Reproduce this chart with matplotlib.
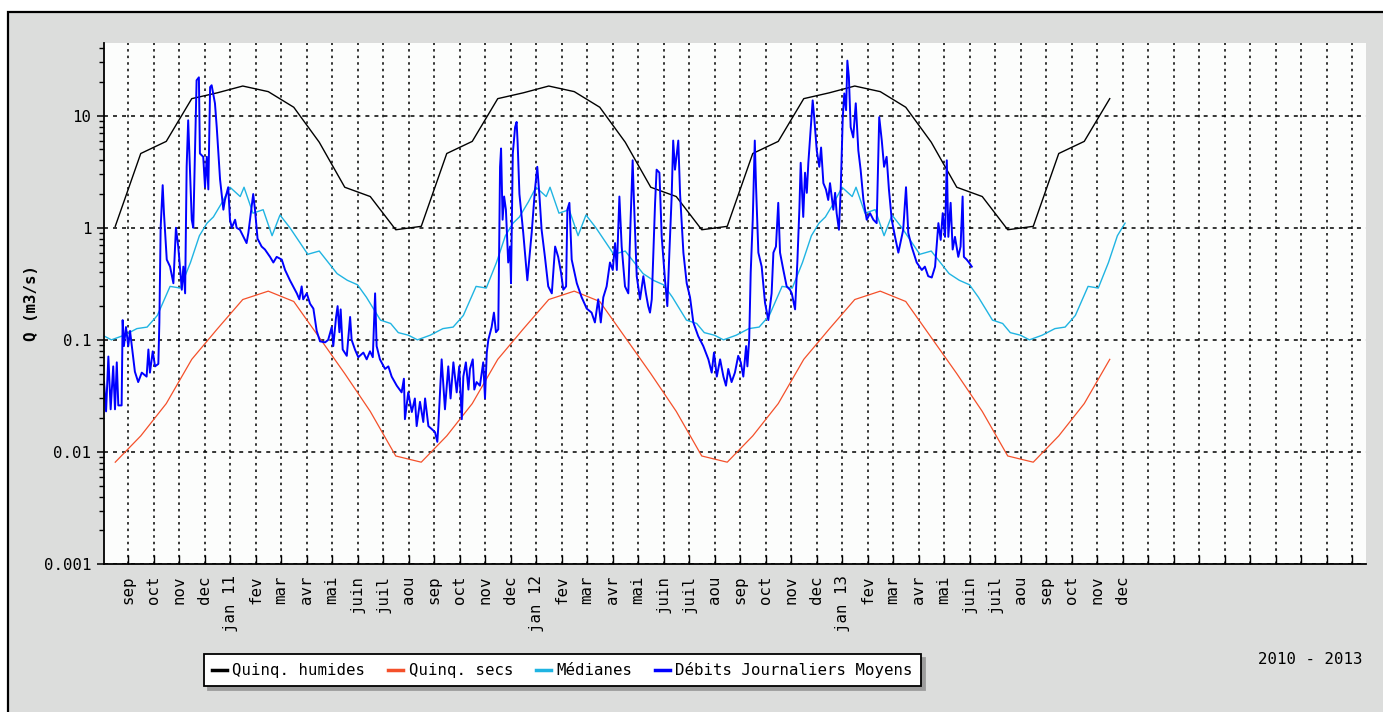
import matplotlib
matplotlib.use("Agg")
import matplotlib.pyplot as plt
from matplotlib.lines import Line2D
from matplotlib.patches import Rectangle

plt.rcParams['font.family'] = ['DejaVu Sans Mono', 'DejaVu Sans']
FS = 11.3

# x unit: months since 1 Aug 2010
month_names = ['sep', 'oct', 'nov', 'dec', 'jan', 'fev', 'mar', 'avr', 'mai', 'juin', 'juil', 'aou']
year_tags = ['11', '12', '13']

# mid-month values, Aug .. Jul (same cycle every year)
humides = [1.03, 4.6, 5.9, 14.2, 16.0, 18.4, 16.4, 11.9, 5.8, 2.3, 1.9, 0.96]
secs = [0.0081, 0.0139, 0.027, 0.067, 0.125, 0.229, 0.272, 0.22, 0.105, 0.05, 0.023, 0.0092]

# medians, one yearly cycle (month offset from 1 Aug, value)
med_m = [0.0, 0.35, 0.85, 1.35, 1.75, 2.15, 2.65, 3.05, 3.45, 3.8, 4.1, 4.35, 4.7, 5.0,
         5.4, 5.55, 5.9, 6.3, 6.65, 6.96, 7.35, 8.05, 8.5, 9.2, 9.6, 10.0, 10.35, 10.9,
         11.3, 11.6]
med_q = [0.11, 0.10, 0.11, 0.126, 0.13, 0.165, 0.3, 0.29, 0.49, 0.85, 1.1, 1.25, 1.7, 2.3,
         1.9, 2.3, 1.35, 1.45, 0.85, 1.3, 1.0, 0.58, 0.62, 0.39, 0.34, 0.31, 0.24, 0.15,
         0.14, 0.116]

# daily mean flows
deb_m = [0.06, 0.14, 0.23, 0.32, 0.42, 0.49, 0.56, 0.62, 0.75, 0.79, 0.84, 0.92, 1.01, 1.08,
         1.15, 1.27, 1.40, 1.54, 1.73, 1.80, 1.86, 1.97, 2.06, 2.19, 2.23, 2.28, 2.36, 2.41,
         2.52, 2.65, 2.78, 2.88, 2.97, 3.11, 3.17, 3.24, 3.30, 3.36, 3.50, 3.56, 3.69, 3.78,
         3.82, 3.95, 4.02, 4.09, 4.15, 4.22, 4.28, 4.41, 4.48, 4.61, 4.74, 4.80, 4.93, 5.00,
         5.07, 5.20, 5.26, 5.39, 5.65, 5.72, 5.91, 5.98, 6.08, 6.24,
         6.37, 6.57, 6.70, 6.83, 7.03, 7.16, 7.35, 7.62, 7.72, 7.81, 7.87, 8.01, 8.14, 8.27,
         8.40, 8.53, 8.73, 8.85, 8.99, 9.05, 9.16, 9.22, 9.29, 9.34, 9.42, 9.58, 9.71, 9.77,
         9.90, 10.03, 10.23, 10.36, 10.49, 10.60, 10.69, 10.75, 10.88, 11.08, 11.21, 11.34,
         11.54, 11.73, 11.82, 11.86, 11.99, 12.13, 12.25, 12.32, 12.45, 12.58, 12.65, 12.78,
         12.91, 13.04, 13.13, 13.17,
         13.30, 13.43, 13.56, 13.65, 13.76, 13.89, 13.99, 14.09, 14.15, 14.25, 14.35, 14.41,
         14.52, 14.58, 14.67, 14.80, 14.93, 15.00, 15.07, 15.13, 15.26, 15.35, 15.43, 15.52,
         15.59, 15.63, 15.69, 15.75, 15.82, 15.91, 15.98, 16.02, 16.09, 16.18, 16.24, 16.28,
         16.35, 16.50, 16.66, 16.83, 16.96, 17.05, 17.13, 17.22, 17.35, 17.48, 17.62, 17.75,
         17.87, 17.98, 18.07, 18.18, 18.23, 18.31, 18.40, 18.60, 18.79, 18.99, 19.18, 19.31,
         19.44, 19.54, 19.64, 19.77, 19.90, 20.01, 20.10, 20.17, 20.27,
         20.36, 20.49, 20.62, 20.71, 20.79, 20.84, 20.95, 21.08, 21.21, 21.31, 21.40, 21.47,
         21.54, 21.67, 21.73, 21.84, 21.93, 22.06, 22.15, 22.23, 22.32, 22.38, 22.45, 22.52,
         22.58, 22.65, 22.78, 22.91, 23.04, 23.17, 23.36, 23.56, 23.76, 23.89, 23.98, 24.09,
         24.22, 24.35, 24.45, 24.54, 24.67, 24.80, 24.93, 25.03, 25.13, 25.24, 25.29, 25.36,
         25.42, 25.50, 25.58, 25.63, 25.72, 25.85, 25.98, 26.11, 26.24, 26.31, 26.41, 26.50,
         26.57, 26.70, 26.83, 26.96,
         27.03, 27.16, 27.25, 27.33, 27.38, 27.48, 27.55, 27.62, 27.68, 27.77, 27.85, 27.91,
         28.01, 28.11, 28.18, 28.27, 28.37, 28.46, 28.53, 28.66, 28.73, 28.79, 28.88, 28.95,
         29.03, 29.09, 29.16, 29.21, 29.27, 29.34, 29.44, 29.54, 29.64, 29.73, 29.84, 29.97,
         30.10, 30.23, 30.36, 30.46, 30.56, 30.65, 30.75, 30.84, 30.95, 31.08, 31.21, 31.40,
         31.51, 31.60, 31.73, 31.93, 32.13, 32.25, 32.38, 32.52, 32.65, 32.78, 32.87, 32.95,
         33.04, 33.11, 33.17, 33.26, 33.34, 33.43, 33.56, 33.65, 33.73, 33.78, 33.89, 33.98,
         34.09]
deb_q = [0.042, 0.023, 0.071, 0.024, 0.058, 0.024, 0.063, 0.026, 0.026, 0.15, 0.088, 0.13,
         0.088, 0.12, 0.088, 0.052, 0.042, 0.051, 0.047, 0.082, 0.051, 0.079, 0.058, 0.061,
         0.143, 1.0, 2.4, 1.35, 0.52, 0.45, 0.32, 1.0, 0.68, 0.28, 0.45, 0.26, 3.5, 9.1,
         1.18, 1.0, 20.7, 22.0, 4.6, 4.3, 2.3, 4.3, 2.2, 18.0, 18.7, 12.9, 7.9, 2.7, 1.45,
         1.77, 2.3, 1.18, 1.0, 1.18, 1.0, 0.96, 0.73, 0.9, 2.0, 1.45, 0.8, 0.68,
         0.64, 0.55, 0.49, 0.55, 0.52, 0.42, 0.34, 0.26, 0.23, 0.30, 0.23, 0.26, 0.21, 0.19,
         0.12, 0.097, 0.095, 0.10, 0.13, 0.088, 0.16, 0.20, 0.117, 0.187, 0.082, 0.072, 0.16,
         0.10, 0.082, 0.07, 0.077, 0.067, 0.079, 0.07, 0.26, 0.088, 0.067, 0.055, 0.058,
         0.047, 0.039, 0.034, 0.045, 0.0196, 0.034, 0.0227, 0.03, 0.017, 0.028, 0.0185, 0.03,
         0.017, 0.016, 0.015, 0.0123, 0.017,
         0.067, 0.024, 0.058, 0.03, 0.063, 0.034, 0.058, 0.0196, 0.047, 0.063, 0.036, 0.055,
         0.067, 0.036, 0.042, 0.039, 0.063, 0.03, 0.077, 0.10, 0.13, 0.175, 0.117, 0.124,
         3.5, 5.1, 1.18, 1.9, 1.45, 0.49, 0.68, 0.32, 4.6, 7.9, 8.8, 5.7,
         2.0, 0.9, 0.34, 0.9, 2.2, 3.5, 2.0, 0.96, 0.55, 0.30, 0.26, 0.68,
         0.55, 0.40, 0.28, 0.30, 1.45, 1.67, 0.52, 0.32, 0.24, 0.19, 0.175, 0.143,
         0.23, 0.143, 0.24, 0.30, 0.49, 0.42, 0.73, 0.42, 1.9,
         0.68, 0.30, 0.26, 1.18, 4.0, 1.77, 0.37, 0.23, 0.37, 0.26, 0.20, 0.175,
         0.23, 1.67, 3.3, 3.1, 0.83, 0.34, 0.20, 0.60, 1.9, 6.0, 3.3, 4.6,
         6.0, 2.0, 0.60, 0.32, 0.24, 0.143, 0.108, 0.088, 0.067, 0.051, 0.077, 0.047,
         0.067, 0.047, 0.039, 0.055, 0.042, 0.051, 0.072, 0.063, 0.047, 0.088, 0.058, 0.10,
         0.40, 1.18, 6.0, 2.3, 0.60, 0.45, 0.215, 0.15, 0.26, 0.60, 0.68, 1.67,
         0.60, 0.42, 0.30, 0.28,
         0.26, 0.187, 0.5, 1.5, 3.8, 1.25, 3.1, 2.05, 3.8, 7.4, 13.7, 9.7,
         4.9, 3.5, 5.2, 2.5, 2.2, 1.77, 2.5, 1.45, 2.05, 1.35, 0.96, 2.2,
         9.7, 15.8, 11.2, 31.0, 22.0, 7.9, 6.4, 12.9, 4.9, 3.3, 1.77, 1.18,
         1.35, 1.18, 1.1, 9.7, 6.0, 3.5, 4.3, 2.2, 1.18, 0.83, 0.60, 0.96,
         2.3, 0.90, 0.68, 0.49, 0.42, 0.45, 0.37, 0.36, 0.45, 1.1, 0.78, 1.35,
         0.83, 4.0, 0.83, 1.67, 0.64, 0.83, 0.55, 0.68, 1.9, 0.55, 0.52, 0.49,
         0.45]

# build series over the whole period (mid-Aug 2010 .. mid-Nov 2013)
n_months = 40
hum_x = [k + 0.5 for k in range(n_months)]
hum_y = [humides[k % 12] for k in range(n_months)]
sec_y = [secs[k % 12] for k in range(n_months)]
med_x, med_y = [], []
for yr in range(4):
    for m, q in zip(med_m, med_q):
        if 12 * yr + m <= 40.1:
            med_x.append(12 * yr + m)
            med_y.append(q)

tick_pos = list(range(1, 50))
tick_labels = []
for i in range(len(tick_pos)):
    if i < n_months:
        name = month_names[i % 12]
        if name == 'jan':
            name = name + ' ' + year_tags[i // 12]
        tick_labels.append(name)
    else:
        tick_labels.append('')

W, H = 1383, 712
fig = plt.figure(figsize=(W / 100, H / 100), dpi=100, facecolor='white')
fig.add_artist(Rectangle((8 / W, -0.05), 1.2, (H - 12) / H + 0.05, transform=fig.transFigure,
                         facecolor='#dcdddc', edgecolor='black', lw=1.6, zorder=-5))

ax = fig.add_axes([104 / W, 1 - 564 / H, (1366 - 104) / W, (564 - 42.5) / H])
ax.set_facecolor('#fcfdfc')
ax.plot(hum_x, hum_y, color='black', lw=1.0)
ax.plot(hum_x, sec_y, color='#f4502a', lw=0.9)
ax.plot(med_x, med_y, color='#1fb4e2', lw=1.0)
ax.plot(deb_m, deb_q, color='#0000ff', lw=1.4)

ax.set_yscale('log')
ax.set_ylim(0.001, 45)
ax.set_xlim((104 - 102.5) / 25.5, (1366 - 102.5) / 25.5)
ax.set_yticks([0.001, 0.01, 0.1, 1, 10])
ax.set_yticklabels(['0.001', '0.01', '0.1', '1', '10'])
ax.set_xticks(tick_pos)
ax.set_xticklabels(tick_labels)

for s in ['top', 'right']:
    ax.spines[s].set_visible(False)
for s in ['left', 'bottom']:
    ax.spines[s].set_linewidth(1.3)

ax.tick_params(axis='y', which='major', direction='out', length=5, width=1.1,
               labelsize=FS, pad=4)
ax.tick_params(axis='y', which='minor', direction='out', length=3.5, width=1.0)
ax.tick_params(axis='x', which='major', direction='in', length=6.5, width=1.0,
               labelsize=FS, pad=8, labelrotation=90)

ax.set_axisbelow(True)
ax.xaxis.grid(True, color='black', lw=1.1, linestyle=(0, (1.65, 2.65)))
ax.yaxis.grid(True, which='major', color='black', lw=1.1, linestyle=(0, (2.6, 3.3)))

fig.text(32 / W, 1 - 303 / H, 'Q (m3/s)', rotation=90, fontweight='bold',
         ha='center', va='center', fontsize=FS)
fig.text(1363 / W, 1 - 660 / H, '2010 - 2013', ha='right', va='center', fontsize=FS)

handles = [Line2D([], [], color='black', lw=2.5),
           Line2D([], [], color='#f4502a', lw=2.5),
           Line2D([], [], color='#1fb4e2', lw=2.5),
           Line2D([], [], color='#0000ff', lw=2.5)]
labels = ['Quinq. humides', 'Quinq. secs', 'Médianes', 'Débits Journaliers Moyens']
leg = fig.legend(handles, labels, loc='center', bbox_to_anchor=(562.5 / W, 1 - 670 / H),
                 ncol=4, frameon=True, fancybox=False, framealpha=1, edgecolor='black',
                 shadow={'ox': 3, 'oy': -3, 'color': '#9c9c9c', 'alpha': 1},
                 fontsize=FS, handlelength=0.95, handletextpad=0.35, columnspacing=1.45,
                 borderpad=0.5, borderaxespad=0)
leg.get_frame().set_linewidth(1.3)

fig.savefig('out.png', dpi=100, facecolor=fig.get_facecolor())
